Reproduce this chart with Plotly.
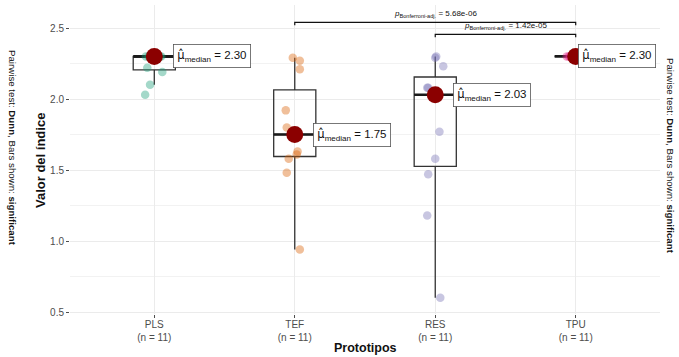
import numpy as np
import plotly.graph_objects as go

# ---- data ----
categories = ["PLS", "TEF", "RES", "TPU"]
n_labels = ["(n = 11)", "(n = 11)", "(n = 11)", "(n = 11)"]
pls_values = [2.30, 2.30, 2.30, 2.30, 2.30, 2.30, 2.30, 2.22, 2.19, 2.10, 2.03]
tef_values = [2.29, 2.27, 2.21, 1.92, 1.80, 1.75, 1.63, 1.61, 1.58, 1.48, 0.94]
res_values = [2.30, 2.29, 2.23, 2.08, 2.08, 2.03, 1.77, 1.58, 1.47, 1.18, 0.60]
tpu_values = [2.30, 2.30, 2.30, 2.30, 2.30, 2.30, 2.30, 2.30, 2.30, 2.30, 2.30]
pairs = [("TEF", "TPU"), ("RES", "TPU")]
pair_pvalues = ["5.68e-06", "1.42e-05"]
y_ticks = [0.5, 1.0, 1.5, 2.0, 2.5]

# jitter offsets (category units)
pls_jit = [-0.06, -0.02, 0.02, 0.04, -0.04, 0.0, 0.05, -0.05, 0.057, -0.03, -0.065]
tef_jit = [-0.014, 0.036, 0.036, -0.064, -0.057, 0.0, 0.02, 0.014, -0.043, -0.057, 0.036]
res_jit = [0.007, 0.0, 0.057, -0.057, -0.05, 0.0, 0.03, 0.0, -0.05, -0.057, 0.036]
tpu_jit = [-0.064, -0.03, 0.0, 0.02, 0.04, -0.05, 0.01, 0.05, -0.02, 0.03, -0.04]

values = [pls_values, tef_values, res_values, tpu_values]
jitters = [pls_jit, tef_jit, res_jit, tpu_jit]
point_colors = ["rgba(27,158,119,0.4)", "rgba(217,95,2,0.4)",
                "rgba(117,112,179,0.4)", "rgba(231,41,138,0.4)"]
label_shift = [19, 18, 18, 2]
FONT = "Liberation Sans, Arial, sans-serif"

fig = go.Figure()
BOXW = 0.3
medians = []
for i, (cat, vals) in enumerate(zip(categories, values)):
    pos = i + 1
    v = np.array(vals)
    q1, med, q3 = np.percentile(v, [25, 50, 75])
    iqr = q3 - q1
    lo = v[v >= q1 - 1.5 * iqr].min()
    hi = v[v <= q3 + 1.5 * iqr].max()
    medians.append(med)
    fig.add_trace(go.Box(
        x=[pos], q1=[q1], median=[med], q3=[q3], lowerfence=[lo], upperfence=[hi],
        width=BOXW, whiskerwidth=0, fillcolor="rgba(0,0,0,0)",
        line=dict(color="#333333", width=1.3),
        boxpoints=False, hoverinfo="skip", showlegend=False))
    # thick median line
    fig.add_trace(go.Scatter(
        x=[pos - BOXW / 2, pos + BOXW / 2], y=[med, med], mode="lines",
        line=dict(color="#1a1a1a", width=2.6), showlegend=False, hoverinfo="skip"))
    # jittered points
    fig.add_trace(go.Scatter(
        x=[pos + j for j in jitters[i]], y=vals, mode="markers",
        marker=dict(size=8.5, color=point_colors[i]), showlegend=False, hoverinfo="skip"))

# median dots
fig.add_trace(go.Scatter(
    x=[1, 2, 3, 4], y=medians, mode="markers",
    marker=dict(size=17, color="#8B0000"), showlegend=False, hoverinfo="skip"))

annotations = []
for i, med in enumerate(medians):
    annotations.append(dict(
        x=i + 1, y=med, xref="x", yref="y", xanchor="left", yanchor="middle",
        xshift=label_shift[i], showarrow=False,
        text=('<span style="font-family:DejaVu Sans;color:#111111">μ̂</span>'
              "<sub>median</sub> = %.2f" % med),
        font=dict(family=FONT, size=11.5, color="#111111"),
        bgcolor="white", bordercolor="#555555", borderwidth=0.8, borderpad=3.5))

# significance brackets
ymax = max(max(v) for v in values)
shapes = []
for k, ((a, b), p) in enumerate(zip(pairs, pair_pvalues)):
    xa = categories.index(a) + 1
    xb = categories.index(b) + 1
    ylev = ymax + 0.24 - 0.085 * k
    tip = 0.02
    shapes.append(dict(type="path", xref="x", yref="y",
                       path=f"M {xa},{ylev - tip} L {xa},{ylev} L {xb},{ylev} L {xb},{ylev - tip}",
                       line=dict(color="#111111", width=1.2)))
    annotations.append(dict(
        x=(xa + xb) / 2, y=ylev, xref="x", yref="y", yanchor="bottom", yshift=1,
        showarrow=False,
        text=f"<i>p</i><sub>Bonferroni-adj.</sub> = {p}",
        font=dict(family=FONT, size=8, color="#111111")))

W, H = 679, 357
ML, MR, MT, MB = 70, 19, 5, 43
pw, ph = W - ML - MR, H - MT - MB


def px_to_paper(xp, yp):
    return (xp - ML) / pw, (H - MB - yp) / ph


def px_note(text, xp, yp, size, angle=0, color="#111111"):
    x, y = px_to_paper(xp, yp)
    return dict(text=text, x=x, y=y, xref="paper", yref="paper",
                xanchor="center", yanchor="middle", showarrow=False,
                textangle=angle, font=dict(family=FONT, size=size, color=color))


side_text = "Pairwise test: <b>Dunn</b>, Bars shown: <b>significant</b>"
annotations.append(px_note(side_text, 13, 148, 9.7, 90))
annotations.append(px_note(side_text, 671, 156, 9.7, 90))
annotations.append(px_note("<b>Valor del índice</b>", 40, 161, 13, -90))
annotations.append(px_note("<b>Prototipos</b>", 365, 348, 12.5))

fig.update_layout(
    width=W, height=H, margin=dict(l=ML, r=MR, t=MT, b=MB),
    paper_bgcolor="white", plot_bgcolor="white",
    font=dict(family=FONT, color="#4d4d4d"),
    annotations=annotations, shapes=shapes, showlegend=False,
    xaxis=dict(range=[0.4, 4.6], tickvals=[1, 2, 3, 4],
               ticktext=[f"{c}<br>{n}" for c, n in zip(categories, n_labels)],
               showgrid=True, gridcolor="#ebebeb", gridwidth=1.2, zeroline=False,
               ticks="outside", ticklen=2.5, tickcolor="#4d4d4d",
               ticklabelstandoff=-2,
               tickfont=dict(size=10, color="#4d4d4d"), showline=False),
    yaxis=dict(range=[0.486, 2.662], tickvals=y_ticks,
               ticktext=[f"{t:.1f}" for t in y_ticks],
               showgrid=True, gridcolor="#ebebeb", gridwidth=1.2, zeroline=False,
               ticks="outside", ticklen=3, tickcolor="#4d4d4d",
               tickfont=dict(size=10, color="#4d4d4d"), showline=False,
               minor=dict(tickvals=[0.75, 1.25, 1.75, 2.25], showgrid=True,
                          gridcolor="#f2f2f2", gridwidth=0.8, ticks="")),
)

fig.write_html("out.html")
